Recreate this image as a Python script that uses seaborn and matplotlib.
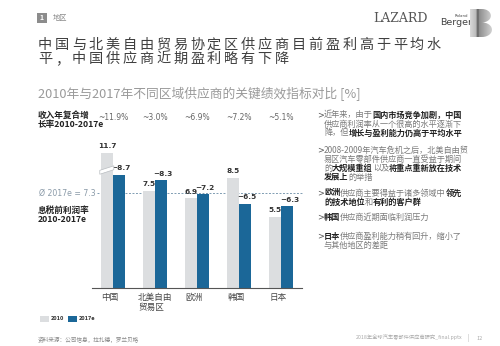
import matplotlib
matplotlib.use("Agg")
import matplotlib.pyplot as plt
import seaborn as sns
import pandas as pd
import numpy as np
from matplotlib.patches import Rectangle, Polygon
from matplotlib.transforms import blended_transform_factory

# ---------------- data ----------------
categories = ["中国", "北美自由\n贸易区", "欧洲", "韩国", "日本"]
years = ["2010", "2017e"]
margin_2010 = [11.7, 7.5, 6.9, 8.5, 5.5]
margin_2017 = [8.7, 8.3, 7.2, 6.5, 6.3]
revenue_cagr = [11.9, 3.0, 6.9, 7.2, 5.1]
avg_2017 = 7.3
axis_cap = 10.4          # bars above this value are drawn with an axis break

title_lines = ["中国与北美自由贸易协定区供应商目前盈利高于平均水",
               "平，中国供应商近期盈利略有下降"]
subtitle = "2010年与2017年不同区域供应商的关键绩效指标对比 [%]"

bullets = [
    [[("近年来，由于", 0), ("国内市场竞争加剧，中国", 1)],
     [("供应商利润率从一个很高的水平逐渐下", 0)],
     [("降，但", 0), ("增长与盈利能力仍高于平均水平", 1)]],
    [[("2008-2009年汽车危机之后，北美自由贸", 0)],
     [("易区汽车零部件供应商一直受益于期间", 0)],
     [("的", 0), ("大规模重组", 1), ("以及", 0), ("将重点重新放在技术", 1)],
     [("发展上", 1), ("的举措", 0)]],
    [[("欧洲", 1), ("供应商主要得益于诸多领域中", 0), ("领先", 1)],
     [("的技术地位", 1), ("和", 0), ("有利的客户群", 1)]],
    [[("韩国", 1), ("供应商近期面临利润压力", 0)]],
    [[("日本", 1), ("供应商盈利能力稍有回升，缩小了", 0)],
     [("与其他地区的差距", 0)]],
]
bullet_y = [115, 150, 193, 217, 236]

# ---------------- style ----------------
sns.set_theme(style="white")
plt.rcParams['font.family'] = ['Noto Sans CJK SC', 'DejaVu Sans']
GRAY = "#dcdee0"
BLUE = "#1b6798"

W, H = 500, 346
fig = plt.figure(figsize=(5, 3.46), dpi=100)
fig.patch.set_facecolor("white")

# full-figure overlay axes in pixel coordinates (y downwards) for slide text
tx = fig.add_axes([0, 0, 1, 1])
tx.set_xlim(0, W)
tx.set_ylim(H, 0)
tx.axis("off")
tx.patch.set_alpha(0)


def fx(x):
    return x / W


def fy(y):
    return 1 - y / H


# ---------------- header ----------------
tx.add_patch(Rectangle((37, 13), 10, 10, facecolor="#8c8c8c", edgecolor="none"))
tx.text(42, 18, "1", fontsize=5, color="white", ha="center", va="center", fontweight="bold")
tx.text(53, 18, "地区", fontsize=5.2, color="#8a8a8a", ha="left", va="center")

# title, letter-spaced
for line, yc in zip(title_lines, [45, 59]):
    x = 38
    for ch in line:
        tx.text(x, yc, ch, fontsize=10.2, color="#404040", ha="left", va="center")
        x += 16.9

tx.text(38, 94, subtitle, fontsize=9.2, color="#9a9a9a", ha="left", va="center")

# logos
tx.text(373, 19, "LAZARD", fontsize=9, color="#555555", ha="left", va="center",
        family="DejaVu Serif")
tx.text(440, 22.5, "Berger", fontsize=6.8, color="#444444", ha="left", va="center",
        family="DejaVu Sans")
tx.text(468, 16, "Roland", fontsize=2.8, color="#444444", ha="right", va="center",
        family="DejaVu Sans")
lax = fig.add_axes([fx(470), fy(37), fx(22), 28 / H])
lax.set_xlim(0, 1)
lax.set_ylim(0, 1)
lax.axis("off")
grad = np.concatenate([np.linspace(0.85, 0.72, 30), np.linspace(0.45, 0.40, 10),
                       np.linspace(0.55, 0.82, 60)])
im = lax.imshow(np.tile(grad, (10, 1)), cmap="gray", vmin=0, vmax=1, extent=(0, 1, 0, 1),
                aspect="auto")
t = np.linspace(0, np.pi, 20)
upper = [(0.55 + 0.4 * np.sin(a), 0.76 + 0.24 * np.cos(a)) for a in t]
lower = [(0.55 + 0.45 * np.sin(a), 0.26 + 0.26 * np.cos(a)) for a in t]
pts = [(0, 0), (0, 1)] + upper + lower + [(0, 0)]
clip = Polygon(pts, closed=True, transform=lax.transData, facecolor="none", edgecolor="none")
lax.add_patch(clip)
im.set_clip_path(clip)

# ---------------- bar chart ----------------
df = pd.DataFrame({
    "region": categories * 2,
    "year": [years[0]] * len(categories) + [years[1]] * len(categories),
    "value": margin_2010 + margin_2017,
})
df["shown"] = df["value"].clip(upper=axis_cap)

ax = fig.add_axes([fx(92), fy(288), fx(302) - fx(92), (288 - 130) / H])
sns.barplot(data=df, x="region", y="shown", hue="year", hue_order=years,
            palette=[GRAY, BLUE], width=0.55, saturation=1, ax=ax, legend=False,
            edgecolor="none", linewidth=0)
ax.set_xlim(-0.5, len(categories) - 0.5)
ax.set_ylim(0, 158 / 13)
ax.set_xlabel("")
ax.set_ylabel("")
ax.set_xticks([])
ax.set_yticks([])
for s in ["top", "right", "left"]:
    ax.spines[s].set_visible(False)
ax.spines["bottom"].set_color("#555555")
ax.spines["bottom"].set_linewidth(0.8)
ax.patch.set_alpha(0)

vals = [margin_2010, margin_2017]
for ci, cont in enumerate(ax.containers):
    for bi, bar in enumerate(cont):
        v = vals[ci][bi]
        txt = f"{v:.1f}" if ci == 0 else f"~{v:.1f}"
        ax.annotate(txt, (bar.get_x() + bar.get_width() / 2 + (0.06 if ci == 1 else 0), bar.get_height()),
                    xytext=(0, 2.5), textcoords="offset points", ha="center", va="bottom",
                    fontsize=5.3, fontweight="bold", color="#333333", family="DejaVu Sans")
        if v > axis_cap:
            x0 = bar.get_x() - 0.04
            x1 = bar.get_x() + bar.get_width() + 0.02
            brk = Polygon([(x0, 8.75), (x1, 9.1), (x1, 9.4), (x0, 9.05)], closed=True,
                          facecolor="white", edgecolor="#b8bcc0", linewidth=0.5, clip_on=False, zorder=5)
            ax.add_patch(brk)

ax.axhline(avg_2017, xmin=(97 - 92) / 210, xmax=1, color="#7f9cb2", lw=0.7,
           ls=(0, (2, 1.6)), clip_on=False, zorder=0.5)

bt = blended_transform_factory(ax.transData, fig.transFigure)
for i, c in enumerate(revenue_cagr):
    ax.text(i, fy(117), f"~{c:.1f}%", transform=bt, fontsize=5.5, color="#666666",
            ha="center", va="center", family="DejaVu Sans")
for i, c in enumerate(categories):
    ax.text(i - 0.28 - (0.12 if "\n" in c else 0), fy(293), c, transform=bt, fontsize=6.2,
            color="#444444", ha="left", va="top", linespacing=1.2)

# left labels
tx.text(38, 115, "收入年复合增", fontsize=6.2, fontweight="bold", color="#222222", va="center")
tx.text(38, 124, "长率2010-2017e", fontsize=6.2, fontweight="bold", color="#222222", va="center")
tx.text(38, 210, "息税前利润率", fontsize=6.2, fontweight="bold", color="#222222", va="center")
tx.text(38, 219, "2010-2017e", fontsize=6.2, fontweight="bold", color="#222222", va="center")
tx.text(96, 193, f"Ø 2017e = {avg_2017}", fontsize=5.6, color="#8a9aa8",
        ha="right", va="center", family="DejaVu Sans")

# legend
for (x0, col, lab) in [(40, GRAY, years[0]), (68, BLUE, years[1])]:
    tx.add_patch(Rectangle((x0, 316), 9, 6, facecolor=col, edgecolor="none"))
    tx.text(x0 + 11, 319, lab, fontsize=3.4, fontweight="bold", color="#333333",
            va="center", family="DejaVu Sans")


# ---------------- right bullet text ----------------
def rich_line(x, y, segs, size=5.9):
    prev = None
    for s, b in segs:
        kw = dict(fontsize=size, fontweight="bold" if b else "normal",
                  color="#222222" if b else "#7a7a7a", va="center", ha="left")
        if prev is None:
            prev = tx.text(x, y, s, **kw)
        else:
            prev = tx.annotate(s, xy=(1, 0.5), xycoords=prev, **kw)


for blines, y0 in zip(bullets, bullet_y):
    tx.text(317, y0, ">", fontsize=5.9, color="#555555", ha="left", va="center",
            family="DejaVu Sans")
    for k, segs in enumerate(blines):
        rich_line(324, y0 + 9 * k, segs)

# ---------------- footer ----------------
tx.text(38, 340, "资料来源：公司信息，拉扎德，罗兰贝格", fontsize=4.1, color="#888888",
        ha="left", va="center")
tx.text(356, 338, "2018年全球汽车零部件供应商研究_final.pptx", fontsize=3.8, color="#aaaaaa",
        ha="left", va="center")
tx.text(468, 338, "|", fontsize=4.5, color="#aaaaaa", ha="center", va="center")
tx.text(477, 338, "12", fontsize=4, color="#aaaaaa", ha="left", va="center")

fig.savefig("out.png", dpi=100)
